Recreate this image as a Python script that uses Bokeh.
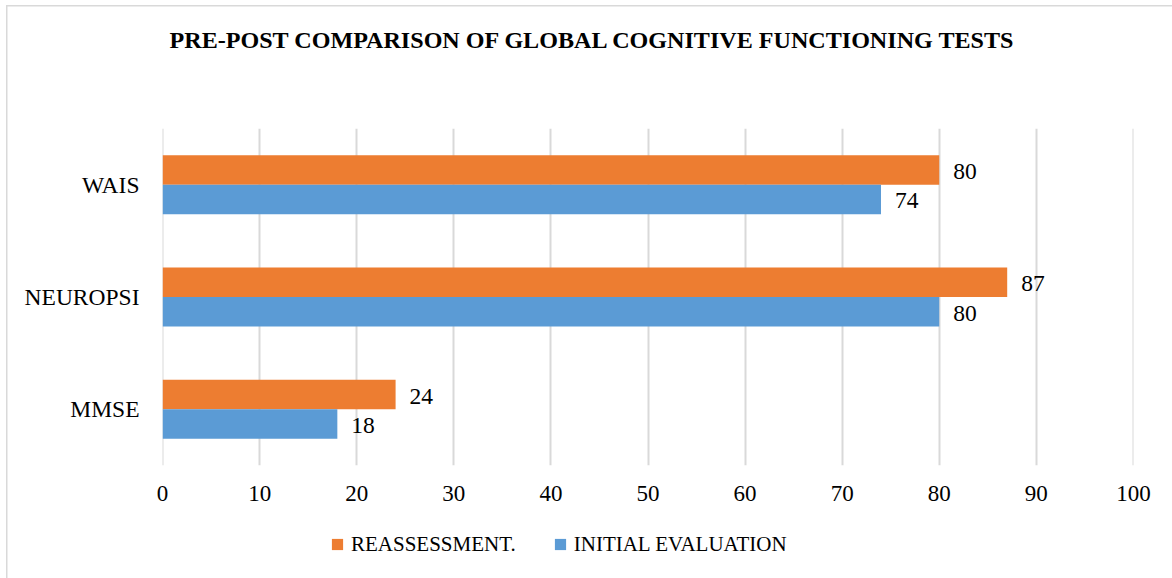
from bokeh.plotting import figure
from bokeh.models import (ColumnDataSource, FactorRange, Range1d, FixedTicker, Legend,
                          LegendItem, LabelSet, Label)
from bokeh.layouts import column
from bokeh.transform import dodge
from bokeh.embed import file_html
from bokeh.resources import INLINE

categories = ["MMSE", "NEUROPSI", "WAIS"]
reassessment = [24, 87, 80]
initial_evaluation = [18, 80, 74]
x_ticks = [0, 10, 20, 30, 40, 50, 60, 70, 80, 90, 100]
title_text = "PRE-POST COMPARISON OF GLOBAL COGNITIVE FUNCTIONING TESTS"
series_names = ["REASSESSMENT.", "INITIAL EVALUATION"]

ORANGE = "#ED7D31"
BLUE = "#5B9BD5"
FONT = "Liberation Serif"

src = ColumnDataSource(dict(cat=categories, re=reassessment, ie=initial_evaluation,
                            re_t=[str(v) for v in reassessment],
                            ie_t=[str(v) for v in initial_evaluation]))

# ---- title strip ----
t = figure(width=1172, height=128, output_backend="svg", toolbar_location=None,
           x_axis_type=None, y_axis_type=None, x_range=Range1d(162, 1133),
           y_range=Range1d(128, 0), min_border=0)
t.outline_line_color = None
t.background_fill_color = None
t.border_fill_color = None
t.grid.visible = False
t.add_layout(Label(x=592.5, y=39.5, text=title_text, text_align="center",
                   text_baseline="alphabetic", text_font=FONT, text_font_style="bold",
                   text_font_size="24.1px", text_color="#000000"))

# ---- main chart ----
p = figure(width=1172, height=392, output_backend="svg", toolbar_location=None,
           y_range=FactorRange(factors=categories, range_padding=0),
           x_range=Range1d(-0.01, 100.01),
           min_border_left=162, min_border_right=39, min_border_top=0, min_border_bottom=55)
p.outline_line_color = None
p.background_fill_color = "white"
p.border_fill_color = None

H = 0.2625
off = H / 2
p.hbar(y=dodge("cat", off, range=p.y_range), left=0, right="re", height=H,
       source=src, fill_color=ORANGE, line_color=None)
p.hbar(y=dodge("cat", -off, range=p.y_range), left=0, right="ie", height=H,
       source=src, fill_color=BLUE, line_color=None)

for col, txt, d in (("re", "re_t", off), ("ie", "ie_t", -off)):
    p.add_layout(LabelSet(x=col, y=dodge("cat", d, range=p.y_range), text=txt, source=src,
                          x_offset=14, y_offset=-1.5, text_baseline="middle", text_align="left",
                          text_font=FONT, text_font_size="23.5px", text_color="#000000"))

p.xaxis.ticker = FixedTicker(ticks=x_ticks)
p.xaxis.axis_line_color = None
p.xaxis.major_tick_line_color = None
p.xaxis.minor_tick_line_color = None
p.xaxis.major_label_standoff = 14
p.xaxis.major_label_text_font = FONT
p.xaxis.major_label_text_font_size = "23px"
p.xaxis.major_label_text_color = "#000000"

p.yaxis.axis_line_color = None
p.yaxis.major_tick_line_color = None
p.yaxis.minor_tick_line_color = None
p.yaxis.major_label_standoff = 17
p.yaxis.major_label_text_font = FONT
p.yaxis.major_label_text_font_size = "23.5px"
p.yaxis.major_label_text_color = "#000000"

p.ygrid.grid_line_color = None
p.xgrid.grid_line_color = "#d9d9d9"
p.xgrid.grid_line_width = 2

# ---- legend strip ----
q = figure(width=1172, height=58, output_backend="svg", toolbar_location=None,
           x_axis_type=None, y_axis_type=None, x_range=Range1d(-2, -1), y_range=Range1d(-2, -1),
           min_border=0)
q.outline_line_color = None
q.background_fill_color = None
q.border_fill_color = None
q.grid.visible = False
# legend proxies (their data lies outside this strip's visible ranges)
g1 = q.scatter(x="re", y="re", marker="square", size=11, source=src,
               fill_color=ORANGE, line_color=None)
g2 = q.scatter(x="ie", y="ie", marker="square", size=11, source=src,
               fill_color=BLUE, line_color=None)
legend = Legend(items=[LegendItem(label=series_names[0], renderers=[g1]),
                       LegendItem(label=series_names[1], renderers=[g2])],
                orientation="horizontal", location=(161, 20),
                glyph_width=28, glyph_height=28, label_standoff=0, spacing=30,
                padding=0, margin=0, label_height=22,
                label_text_font=FONT, label_text_font_size="21px", label_text_color="#000000",
                background_fill_alpha=0, border_line_color=None)
q.add_layout(legend, "center")

layout = column(t, p, q, spacing=0, styles={
    "background": "linear-gradient(#d9d9d9,#d9d9d9) 6px 5px / 1.5px 100% no-repeat, "
                  "linear-gradient(#d9d9d9,#d9d9d9) 6px 5px / 100% 1.5px no-repeat, white"
})

open("out.html", "w").write(file_html(layout, INLINE))
